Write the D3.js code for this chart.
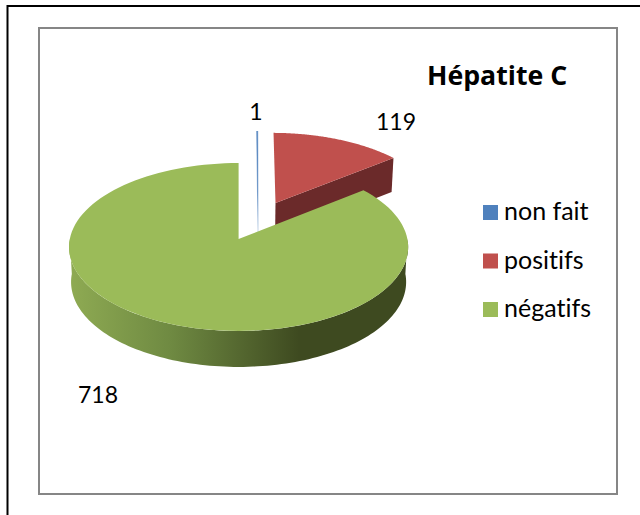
<!DOCTYPE html>
<html>
<head>
<meta charset="utf-8">
<script src="https://cdn.jsdelivr.net/npm/d3@7"></script>
<style>
  html, body { margin: 0; padding: 0; background: #fff; }
  svg { display: block; }
  text { font-family: Lato, "Open Sans", sans-serif; fill: #000; font-variant-ligatures: none; }
</style>
</head>
<body>
<svg width="640" height="515"></svg>
<script>
const titleText = 'Hépatite C';
const categories = ['non fait', 'positifs', 'négatifs'];
const values = [1, 119, 718];
const colors = ['#4f81bd', '#c0504d', '#9bbb59'];

const svg = d3.select('svg');

// page frame and chart frame
svg.append('path')
  .attr('d', 'M7.5,515V6H640')
  .attr('fill', 'none')
  .attr('stroke', '#000')
  .attr('stroke-width', 2);
svg.append('rect')
  .attr('x', 39).attr('y', 28)
  .attr('width', 578).attr('height', 466)
  .attr('fill', '#fff')
  .attr('stroke', '#868686')
  .attr('stroke-width', 2);

// pie lies flat on a plane and is seen in perspective
const apex = { x: 238.6, y: 239 };
const persp = 0.0952;
const scaleX = 168.8;
const scaleY = 83.2;
const depth = 34.9;
// explosion of each slice, in pie radius units
const explode = [
  { x: 0.122, y: 0.481 },
  { x: 0.228, y: 0.452 },
  { x: 0, y: 0 }
];

const project = (X, Y, bottom) => {
  const w = 1 + persp * Y;
  const px = scaleX * X / w;
  const py = -scaleY * Y / w;
  return bottom
    ? [apex.x + px * 0.988, apex.y + py * 1.0116 + depth]
    : [apex.x + px, apex.y + py];
};

const arcPoints = (a0, a1, off, bottom) => d3.range(0, 121).map(i => {
  const a = a0 + (a1 - a0) * i / 120;
  return project(off.x + Math.sin(a), off.y + Math.cos(a), bottom);
});

const line = d3.line();
const pie = d3.pie().sort(null);
const slices = pie(values);

const defs = svg.append('defs');
const grad = defs.append('linearGradient')
  .attr('id', 'greenWall')
  .attr('gradientUnits', 'userSpaceOnUse')
  .attr('x1', 68).attr('x2', 408).attr('y1', 0).attr('y2', 0);
[[0, '#8fab53'], [0.3, '#6f8a42'], [0.68, '#3e4a20'], [1, '#3e4a20']].forEach(s => {
  grad.append('stop').attr('offset', s[0]).attr('stop-color', s[1]);
});
const blueGrad = defs.append('linearGradient')
  .attr('id', 'blueFade')
  .attr('gradientUnits', 'userSpaceOnUse')
  .attr('x1', 0).attr('x2', 0).attr('y1', 131).attr('y2', 232);
[[0, colors[0]], [0.6, colors[0]], [1, '#c5d5e8']].forEach(s => {
  blueGrad.append('stop').attr('offset', s[0]).attr('stop-color', s[1]);
});

const g = svg.append('g');

// red slice, wall first
const red = slices[1];
const redOff = explode[1];
g.append('path')
  .attr('d', line([
    project(redOff.x, redOff.y, false),
    ...arcPoints(red.endAngle, red.endAngle, redOff, false).slice(0, 1),
    ...arcPoints(red.endAngle, red.endAngle, redOff, true).slice(0, 1),
    project(redOff.x, redOff.y, true)
  ]) + 'Z')
  .attr('fill', '#6b2a2a');
g.append('path')
  .attr('d', line([
    project(redOff.x, redOff.y, false),
    ...arcPoints(red.startAngle, red.endAngle, redOff, false)
  ]) + 'Z')
  .attr('fill', colors[1]);

// blue slice is only a sliver, the stroke keeps it visible
const blue = slices[0];
const blueOff = explode[0];
g.append('path')
  .attr('d', line([
    project(blueOff.x, blueOff.y, true),
    ...arcPoints(blue.startAngle, blue.endAngle, blueOff, false)
  ]) + 'Z')
  .attr('fill', 'url(#blueFade)')
  .attr('stroke', 'url(#blueFade)')
  .attr('stroke-width', 0.5);

// green slice
const green = slices[2];
const greenOff = explode[2];
const wallStart = Math.PI / 2;
const wallEnd = Math.PI * 1.5;
g.append('path')
  .attr('d', line([
    ...arcPoints(wallStart, wallEnd, greenOff, false),
    ...arcPoints(wallStart, wallEnd, greenOff, true).reverse()
  ]) + 'Z')
  .attr('fill', 'url(#greenWall)');
g.append('path')
  .attr('d', line([
    project(greenOff.x, greenOff.y, false),
    ...arcPoints(green.startAngle, green.endAngle, greenOff, false)
  ]) + 'Z')
  .attr('fill', colors[2]);

// value labels
const labelPos = [[256, 120], [396, 130], [98, 403]];
svg.append('g').selectAll('text').data(values).enter().append('text')
  .attr('x', (d, i) => labelPos[i][0])
  .attr('y', (d, i) => labelPos[i][1])
  .attr('text-anchor', 'middle')
  .attr('font-size', 23)
  .text(d => d);

svg.append('text')
  .attr('x', 427).attr('y', 85)
  .attr('font-size', 26.7)
  .attr('font-weight', 700)
  .style('font-family', '"Open Sans", sans-serif')
  .text(titleText);

// legend
const legendY = d3.scalePoint().domain(categories).range([212.5, 309.5]);
const legend = svg.append('g').selectAll('g').data(categories).enter().append('g')
  .attr('transform', d => `translate(483,${legendY(d)})`);
legend.append('rect')
  .attr('y', -7.5)
  .attr('width', 15).attr('height', 15)
  .attr('fill', (d, i) => colors[i]);
legend.append('text')
  .attr('x', 21).attr('y', 7.5)
  .attr('font-size', 25)
  .text(d => d);
</script>
</body>
</html>
